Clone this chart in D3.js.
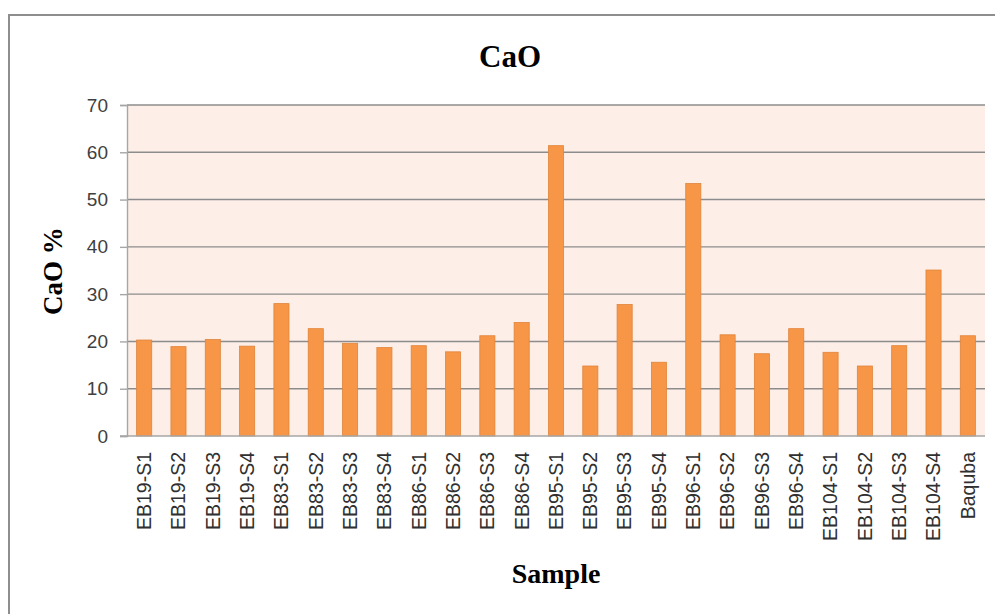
<!DOCTYPE html>
<html>
<head>
<meta charset="utf-8">
<script src="https://cdn.jsdelivr.net/npm/d3@7/dist/d3.min.js"></script>
<style>
  body { margin: 0; background: #fff; }
  svg { display: block; }
</style>
</head>
<body>
<script>
// chart data
const samples = ["EB19-S1", "EB19-S2", "EB19-S3", "EB19-S4",
                 "EB83-S1", "EB83-S2", "EB83-S3", "EB83-S4",
                 "EB86-S1", "EB86-S2", "EB86-S3", "EB86-S4",
                 "EB95-S1", "EB95-S2", "EB95-S3", "EB95-S4",
                 "EB96-S1", "EB96-S2", "EB96-S3", "EB96-S4",
                 "EB104-S1", "EB104-S2", "EB104-S3", "EB104-S4", "Baquba"];
const cao = [20.3, 18.9, 20.4, 19.0,
             28.0, 22.7, 19.6, 18.7,
             19.1, 17.8, 21.2, 24.0,
             61.4, 14.8, 27.8, 15.6,
             53.4, 21.4, 17.4, 22.7,
             17.7, 14.8, 19.1, 35.1, 21.2];
const yTicks = [0, 10, 20, 30, 40, 50, 60, 70];

const W = 995, H = 614;
const plot = {left: 127, right: 985, top: 105, bottom: 436};

const svg = d3.select("body").append("svg")
    .attr("width", W)
    .attr("height", H);

// outer frame (only top and left edges show)
svg.append("path")
    .attr("d", `M9,${H} L9,15 L${W},15`)
    .attr("fill", "none")
    .attr("stroke", "#8e8e8e")
    .attr("stroke-width", 2);

const x = d3.scaleBand()
    .domain(samples)
    .range([plot.left, plot.right])
    .paddingInner(0.56)
    .paddingOuter(0.28);

const y = d3.scaleLinear()
    .domain([0, 70])
    .range([plot.bottom, plot.top]);

// plot background
svg.append("rect")
    .attr("x", plot.left)
    .attr("y", plot.top)
    .attr("width", plot.right - plot.left)
    .attr("height", plot.bottom - plot.top)
    .attr("fill", "#fdeee8");

// gridlines
svg.append("g")
    .selectAll("line")
    .data(yTicks.filter(d => d > 0))
    .join("line")
        .attr("x1", plot.left)
        .attr("x2", plot.right)
        .attr("y1", d => y(d))
        .attr("y2", d => y(d))
        .attr("stroke", "#8c8c8c")
        .attr("stroke-width", 1.4);

// y axis
const yAxis = svg.append("g")
    .attr("transform", `translate(${plot.left},0)`)
    .call(d3.axisLeft(y).tickValues(yTicks).tickSize(7).tickPadding(12));
yAxis.select(".domain").attr("stroke", "#a6a6a6").attr("stroke-width", 1.4);
yAxis.selectAll(".tick line").attr("stroke", "#a6a6a6").attr("stroke-width", 1.4);
yAxis.selectAll(".tick text")
    .attr("fill", "#404040")
    .style("font-family", "'Liberation Sans', Arial, sans-serif")
    .style("font-size", "19px");

// bars
svg.append("g")
    .selectAll("rect")
    .data(samples)
    .join("rect")
        .attr("x", d => x(d))
        .attr("y", (d, i) => y(cao[i]))
        .attr("width", x.bandwidth())
        .attr("height", (d, i) => y(0) - y(cao[i]))
        .attr("fill", "#f79646")
        .attr("stroke", "#e0843a")
        .attr("stroke-width", 0.8);

// baseline
svg.append("line")
    .attr("x1", plot.left - 7)
    .attr("x2", plot.right)
    .attr("y1", y(0))
    .attr("y2", y(0))
    .attr("stroke", "#a6a6a6")
    .attr("stroke-width", 1.4);

// x axis labels, rotated
const xAxis = svg.append("g")
    .attr("transform", `translate(0,${plot.bottom})`)
    .call(d3.axisBottom(x).tickSize(0).tickPadding(0));
xAxis.select(".domain").remove();
xAxis.selectAll(".tick text")
    .attr("transform", "rotate(-90)")
    .attr("x", -16)
    .attr("y", 0)
    .attr("dy", "0.35em")
    .attr("text-anchor", "end")
    .attr("fill", "#303030")
    .style("font-family", "'Liberation Sans', Arial, sans-serif")
    .style("font-size", "19.5px");

// titles
svg.append("text")
    .attr("x", 510)
    .attr("y", 67)
    .attr("text-anchor", "middle")
    .style("font-family", "'Liberation Serif', 'Times New Roman', serif")
    .style("font-weight", "bold")
    .style("font-size", "31px")
    .text("CaO");

svg.append("text")
    .attr("transform", "translate(62,271) rotate(-90)")
    .attr("text-anchor", "middle")
    .style("font-family", "'Liberation Serif', 'Times New Roman', serif")
    .style("font-weight", "bold")
    .style("font-size", "27px")
    .text("CaO %");

svg.append("text")
    .attr("x", 556)
    .attr("y", 583)
    .attr("text-anchor", "middle")
    .style("font-family", "'Liberation Serif', 'Times New Roman', serif")
    .style("font-weight", "bold")
    .style("font-size", "28px")
    .text("Sample");
</script>
</body>
</html>
